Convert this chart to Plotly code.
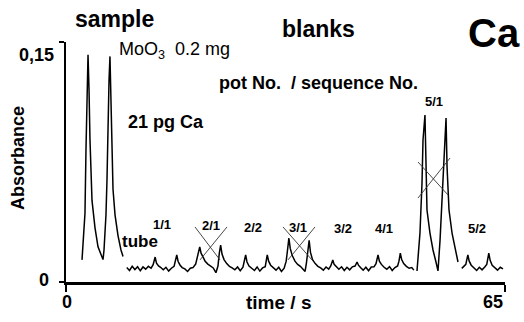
import plotly.graph_objects as go

# ---- data (time in s, absorbance) ----
sample_t = [2.37, 2.52, 2.81, 2.96, 3.11, 3.26, 3.41, 3.55, 3.85, 4.29, 4.74, 5.18, 5.48,
            5.63, 5.92, 6.07, 6.22, 6.37, 6.51, 6.66, 6.81, 6.96, 7.26, 7.70, 8.14, 8.44]
sample_a = [0.0138, 0.026, 0.043, 0.083, 0.126, 0.142, 0.120, 0.089, 0.051, 0.034, 0.022, 0.017, 0.014,
            0.020, 0.042, 0.064, 0.101, 0.126, 0.141, 0.114, 0.083, 0.058, 0.042, 0.029, 0.020, 0.016]

blank_t = [9.0, 9.4, 9.8, 10.2, 10.6, 11.0, 11.4, 11.8, 12.2, 12.6, 12.9, 13.2, 13.4, 13.7, 14.0,
           14.4, 14.8, 15.2, 15.6, 16.0, 16.4, 16.6, 16.9, 17.2, 17.6, 18.0, 18.4, 18.8, 19.2,
           19.5, 19.8, 20.0, 20.3, 20.6, 21.0, 21.4, 21.8, 22.2, 22.5, 22.7, 22.9, 23.1, 23.4,
           23.8, 24.2, 24.6, 25.0, 25.4, 25.8, 26.2, 26.6, 26.8, 27.1, 27.5, 27.9, 28.3, 28.7,
           29.1, 29.5, 29.8, 30.0, 30.3, 30.7, 31.1, 31.5, 31.9, 32.3, 32.6, 32.8, 33.0, 33.2,
           33.5, 33.9, 34.3, 34.7, 35.1, 35.4, 35.6, 35.8, 36.0, 36.2, 36.5, 36.9, 37.3, 37.7,
           38.1, 38.5, 38.9, 39.2, 39.5, 39.7, 40.0, 40.4, 40.8, 41.2, 41.6, 42.0, 42.4, 42.8,
           43.1, 43.3, 43.6, 44.0, 44.4, 44.8, 45.2, 45.6, 45.9, 46.2, 46.4, 46.7, 47.1, 47.5,
           47.9, 48.3, 48.7, 49.1, 49.3, 49.5, 49.7, 50.0, 50.4, 50.8, 51.2, 51.5]
blank_a = [0.0090, 0.0072, 0.0098, 0.0078, 0.0095, 0.0070, 0.0094, 0.0080, 0.0098, 0.0086, 0.0108,
           0.0156, 0.0118, 0.0100, 0.0092, 0.0076, 0.0092, 0.0068, 0.0086, 0.0098, 0.0169, 0.0128,
           0.0105, 0.0090, 0.0082, 0.0066, 0.0086, 0.0090, 0.0112, 0.0160, 0.0219, 0.0180, 0.0150,
           0.0130, 0.0112, 0.0100, 0.0088, 0.0058, 0.0100, 0.0180, 0.0230, 0.0175, 0.0140, 0.0115,
           0.0098, 0.0088, 0.0076, 0.0094, 0.0070, 0.0092, 0.0169, 0.0125, 0.0100, 0.0086, 0.0072,
           0.0094, 0.0068, 0.0088, 0.0096, 0.0169, 0.0130, 0.0105, 0.0088, 0.0074, 0.0092, 0.0066,
           0.0086, 0.0130, 0.0200, 0.0275, 0.0210, 0.0165, 0.0130, 0.0110, 0.0098, 0.0082, 0.0066,
           0.0120, 0.0190, 0.0260, 0.0185, 0.0140, 0.0115, 0.0098, 0.0088, 0.0074, 0.0094, 0.0080,
           0.0100, 0.0138, 0.0110, 0.0096, 0.0080, 0.0095, 0.0072, 0.0092, 0.0076, 0.0095, 0.0100,
           0.0125, 0.0105, 0.0090, 0.0074, 0.0092, 0.0070, 0.0094, 0.0095, 0.0115, 0.0169, 0.0130,
           0.0110, 0.0092, 0.0080, 0.0096, 0.0072, 0.0090, 0.0100, 0.0130, 0.0180, 0.0140, 0.0115,
           0.0098, 0.0086, 0.0090, 0.0074]

pot5_t = [51.97, 52.41, 52.71, 52.86, 53.15, 53.30, 53.45, 53.89, 54.34, 54.78, 55.08,
          55.38, 55.67, 55.97, 56.27, 56.42, 56.71, 57.16, 57.60, 58.04]
pot5_a = [0.0069, 0.0306, 0.0619, 0.0888, 0.1044, 0.0825, 0.045, 0.0306, 0.020, 0.0125, 0.0069,
          0.026, 0.051, 0.0825, 0.1025, 0.0719, 0.045, 0.0306, 0.0219, 0.0125]

pot5b_t = [58.6, 58.9, 59.2, 59.5, 59.7, 60.0, 60.4, 60.8, 61.2, 61.6, 62.0, 62.3, 62.6, 62.8,
           63.1, 63.5, 63.9, 64.3, 64.7]
pot5b_a = [0.0085, 0.0095, 0.0110, 0.0169, 0.0130, 0.0105, 0.0086, 0.0072, 0.0092, 0.0076, 0.0094,
           0.0110, 0.0180, 0.0135, 0.0105, 0.0088, 0.0074, 0.0092, 0.0082]

# crossing-out marks (t0, a0, t1, a1)
cross_lines = [
    (19.1, 0.0344, 22.8, 0.0138), (23.84, 0.0344, 19.84, 0.0138),
    (32.13, 0.0344, 36.42, 0.0138), (36.87, 0.0344, 32.87, 0.0138),
    (52.12, 0.075, 56.56, 0.0544), (56.86, 0.0775, 52.12, 0.0525),
]

peak_labels = ["1/1", "2/1", "2/2", "3/1", "3/2", "4/1", "5/1", "5/2"]
x_ticks = [0, 65]
x_tick_text = ["0", "65"]
y_ticks = [0, 0.15]
y_tick_text = ["0", "0,15"]

# ---- figure ----
W, H = 524, 322
L, R, T, B = 66, 19, 42, 40
pw, ph = W - L - R, H - T - B

def px(x):
    return (x - L) / pw

def py(y):
    return (H - B - y) / ph

t_all, a_all = [], []
for ts, as_ in [(sample_t, sample_a), (blank_t, blank_a), (pot5_t, pot5_a), (pot5b_t, pot5b_a)]:
    t_all += ts + [None]
    a_all += as_ + [None]

fig = go.Figure()
fig.add_trace(go.Scatter(x=t_all, y=a_all, mode="lines",
                         line=dict(color="black", width=1.5), showlegend=False,
                         hoverinfo="skip"))
for (t0, a0, t1, a1) in cross_lines:
    fig.add_trace(go.Scatter(x=[t0, t1], y=[a0, a1], mode="lines",
                             line=dict(color="#333333", width=0.9), showlegend=False,
                             hoverinfo="skip"))

FONT = "Liberation Sans, Arial, sans-serif"
ann = []

def txt(text, x, y, size, bold=True, xanchor="center", textangle=0):
    ann.append(dict(text=("<b>%s</b>" % text) if bold else text, x=px(x), y=py(y),
                    xref="paper", yref="paper", showarrow=False, xanchor=xanchor,
                    yanchor="middle", textangle=textangle,
                    font=dict(family=FONT, size=size, color="black")))

txt("sample", 114, 19, 23)
txt("blanks", 318, 29, 23)
txt("Ca", 494, 33, 40)
txt("MoO<sub>3</sub>  0.2 mg", 117, 51, 18, bold=False, xanchor="left")
txt("pot No.  / sequence No.", 217, 83, 18, xanchor="left")
txt("21 pg Ca", 126, 122, 18, xanchor="left")
txt("tube", 140, 241, 17)
label_pos = [(162, 224), (211, 225), (253, 227), (298, 227), (343, 228), (384, 228), (434, 101), (477, 228)]
for lab, (x, y) in zip(peak_labels, label_pos):
    txt(lab, x, y, 13)
txt("Absorbance", 18, 158, 18, textangle=-90)
txt("time / s", 278, 302, 19)
for lab, x in zip(x_tick_text, [67, 493]):
    txt(lab, x, 302, 18)
for lab, (x, y) in zip(y_tick_text, [(44, 280), (36, 55)]):
    txt(lab, x, y, 18)

fig.update_layout(
    width=W, height=H, autosize=False,
    margin=dict(l=L, r=R, t=T, b=B, pad=0),
    paper_bgcolor="white", plot_bgcolor="white",
    annotations=ann,
    xaxis=dict(range=[0, 65], showgrid=False, zeroline=False, showline=True,
               linecolor="black", linewidth=2.5, ticks="outside", ticklen=7,
               tickwidth=1.5, tickcolor="black", tickvals=x_ticks,
               showticklabels=False, fixedrange=True),
    yaxis=dict(range=[0, 0.15], showgrid=False, zeroline=False, showline=True,
               linecolor="black", linewidth=1.5, ticks="outside", ticklen=5,
               tickwidth=1.5, tickcolor="black", tickvals=y_ticks,
               showticklabels=False, fixedrange=True),
)

fig.write_html("out.html", config={"displayModeBar": False},
               post_script="document.body.style.margin='0px';")
